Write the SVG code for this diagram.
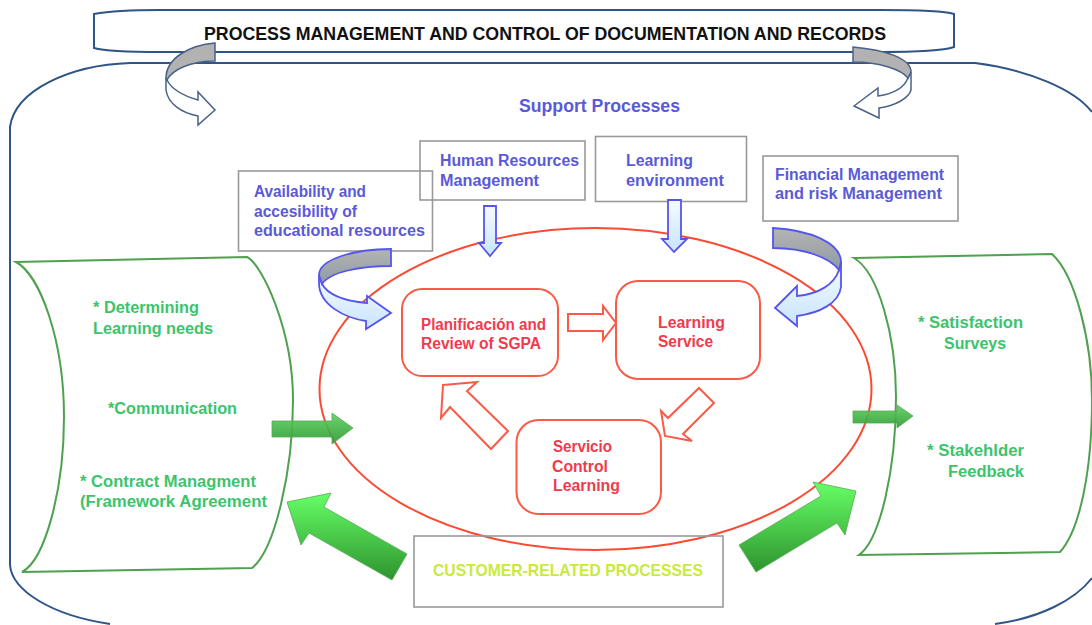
<svg xmlns="http://www.w3.org/2000/svg" width="1092" height="625" viewBox="0 0 1092 625">
<style>
text{font-family:"Liberation Sans",Arial,sans-serif;font-weight:bold;font-size:16px}
.b{fill:#5a5ad8}.r{fill:#f23a4e}.g{fill:#3cc46c}
.frame{fill:none;stroke:#2f5487;stroke-width:2}
.box{fill:none;stroke:#999;stroke-width:1.6}
.rbox{fill:#fff;stroke:#fb5a46;stroke-width:2}
.rarrow{fill:#fff;stroke:#fb5a46;stroke-width:2;stroke-linejoin:miter}
.scroll{fill:none;stroke:#4fa04f;stroke-width:2}
.gy{fill:#b2b2b2;stroke:#4a6288;stroke-width:1.5}
.wh{fill:#fff;stroke:#4a6288;stroke-width:1.5}
.bgy{fill:url(#gy2);stroke:#5555ee;stroke-width:1.8}
.bbl{fill:url(#bl);stroke:#5555ee;stroke-width:1.8}
.gn{fill:url(#gr);stroke:#58a858;stroke-width:.8;stroke-linejoin:miter}
.gs{fill:url(#gs);fill-opacity:.92;stroke:#58a858;stroke-width:.8}
</style>
<defs>
<linearGradient id="gr" x1="0" y1="0" x2="0" y2="1"><stop offset="0" stop-color="#66ff66"/><stop offset="1" stop-color="#2e932e"/></linearGradient>
<linearGradient id="gs" x1="0" y1="0" x2="0" y2="1"><stop offset="0" stop-color="#5fd05f"/><stop offset="1" stop-color="#2f9a35"/></linearGradient>
<linearGradient id="bl" x1="0" y1="0" x2="0" y2="1"><stop offset="0" stop-color="#f6fbff"/><stop offset="1" stop-color="#c8e4ff"/></linearGradient>
<linearGradient id="gy2" x1="0" y1="0" x2="0" y2="1"><stop offset="0" stop-color="#b4b4b4"/><stop offset="1" stop-color="#8f9aa4"/></linearGradient>
</defs>

<g id="outer-frame"><path class="frame" d="M10 565V127C15 90 70 65 130 63H975C1030 70 1075 90 1092 112M10 565C12 590 50 615 110 624M995 624C1040 618 1075 600 1092 578"/></g>
<g id="title"><path class="frame" d="M160 52C130 52 105 51 94 48V14C105 12 130 10 160 10H880C915 10 945 11 954 14V47C945 50 915 52 880 52Z"/>
<text x="204" y="40" style="font-size:19px" textLength="682" lengthAdjust="spacingAndGlyphs" fill="#111">PROCESS MANAGEMENT AND CONTROL OF DOCUMENTATION AND RECORDS</text></g>
<g id="support-label"><text class="b" x="519" y="112" style="font-size:17.500px" textLength="161" lengthAdjust="spacingAndGlyphs">Support Processes</text></g>

<g id="core-ellipse"><ellipse cx="595.5" cy="389" rx="276" ry="161" fill="none" stroke="#fb4a32" stroke-width="2"/></g>

<g id="scroll-left"><path class="scroll" d="M16 262L247 257C262 264 293 330 293 400C293 470 275 550 252 568L22 572C45 560 64 490 64 417C64 340 40 275 16 262Z"/>
<text class="g" x="93" y="313" textLength="106" lengthAdjust="spacingAndGlyphs">* Determining</text>
<text class="g" x="93" y="334" textLength="120" lengthAdjust="spacingAndGlyphs">Learning needs</text>
<text class="g" x="108" y="414" textLength="129" lengthAdjust="spacingAndGlyphs">*Communication</text>
<text class="g" x="80" y="487" textLength="176" lengthAdjust="spacingAndGlyphs">* Contract Managment</text>
<text class="g" x="80" y="507" textLength="187" lengthAdjust="spacingAndGlyphs">(Framework Agreement</text></g>

<g id="scroll-right"><path class="scroll" d="M854 258L1052 254C1075 275 1092 340 1092 400C1092 470 1080 530 1060 552L859 555C880 540 896 470 896 397C896 335 878 272 854 258Z"/>
<text class="g" x="918" y="328" textLength="105" lengthAdjust="spacingAndGlyphs">* Satisfaction</text>
<text class="g" x="944" y="349" textLength="62" lengthAdjust="spacingAndGlyphs">Surveys</text>
<text class="g" x="927" y="456" textLength="97" lengthAdjust="spacingAndGlyphs">* Stakehlder</text>
<text class="g" x="948" y="477" textLength="76" lengthAdjust="spacingAndGlyphs">Feedback</text></g>

<g id="box-availability"><rect class="box" x="238.5" y="171" width="194" height="80"/>
<text class="b" x="254" y="197" textLength="112" lengthAdjust="spacingAndGlyphs">Availability and</text>
<text class="b" x="254" y="217" textLength="103" lengthAdjust="spacingAndGlyphs">accesibility of</text>
<text class="b" x="254" y="236" textLength="171" lengthAdjust="spacingAndGlyphs">educational resources</text></g>
<g id="box-hr"><rect class="box" x="420" y="141" width="165" height="59"/>
<text class="b" x="440" y="166" textLength="139" lengthAdjust="spacingAndGlyphs">Human Resources</text>
<text class="b" x="440" y="186" textLength="99" lengthAdjust="spacingAndGlyphs">Management</text></g>
<g id="box-environment"><rect class="box" x="595.5" y="136.5" width="151" height="65"/>
<text class="b" x="626" y="166" textLength="67" lengthAdjust="spacingAndGlyphs">Learning</text>
<text class="b" x="626" y="186" textLength="98" lengthAdjust="spacingAndGlyphs">environment</text></g>
<g id="box-financial"><rect class="box" x="763" y="156" width="195" height="65"/>
<text class="b" x="775" y="180" textLength="169" lengthAdjust="spacingAndGlyphs">Financial Management</text>
<text class="b" x="775" y="199" textLength="167" lengthAdjust="spacingAndGlyphs">and risk Management</text></g>

<g id="node-planning"><rect class="rbox" x="402" y="289" width="156" height="87" rx="20"/>
<text class="r" x="421" y="330" textLength="125" lengthAdjust="spacingAndGlyphs">Planificación and</text>
<text class="r" x="421" y="349" textLength="120" lengthAdjust="spacingAndGlyphs">Review of SGPA</text></g>
<g id="node-service"><rect class="rbox" x="616" y="281" width="144" height="98" rx="22"/>
<text class="r" x="658" y="328" textLength="67" lengthAdjust="spacingAndGlyphs">Learning</text>
<text class="r" x="658" y="347" textLength="55" lengthAdjust="spacingAndGlyphs">Service</text></g>
<g id="node-control"><rect class="rbox" x="516.500" y="420" width="144.500" height="94" rx="22"/>
<text class="r" x="553" y="452" textLength="59" lengthAdjust="spacingAndGlyphs">Servicio</text>
<text class="r" x="552" y="472" textLength="56" lengthAdjust="spacingAndGlyphs">Control</text>
<text class="r" x="553" y="491" textLength="67" lengthAdjust="spacingAndGlyphs">Learning</text></g>

<g id="box-customer"><rect class="box" x="414" y="536" width="309" height="71"/>
<text x="433" y="576" fill="#c8ea3e" style="font-size:17px" textLength="270" lengthAdjust="spacingAndGlyphs">CUSTOMER-RELATED PROCESSES</text></g>

<g id="connectors">
<path class="rarrow" d="M568 314H603V306L616 323L603 340V331H568Z"/>
<path class="rarrow" d="M699 388L714 403L683 434L692 441L665 436L661 411L668 418Z"/>
<path class="rarrow" d="M443 385L477 382L467 391L508 431L491 449L450 407L441 418Z"/>
<path class="gs" d="M272 421H332V413L353 428L332 444V437H272Z"/>
<path class="gs" d="M853 411H897V405L913 416L897 428V423H853Z"/>
<path class="gn" d="M287 502L331 493L324 507L407 554L392 580L309 533L301 545Z"/>
<path class="gn" d="M813 482L856 491L845 535L837 523L756 572L739 545L821 496Z"/>
<path class="bbl" d="M484 206H496V243H501L490 256L479 243H484Z"/>
<path class="bbl" d="M668 200H681V239H687L674 252L662 239H668Z"/>
<path class="wh" d="M166 78V90C168 104 182 113 198 116V125L215 110L198 92V100C184 96 172 90 167 80Z"/>
<path class="gy" d="M215 43C190 45 166 58 166 78L167 80C172 70 190 61 215 61Z"/>
<path class="wh" d="M911 72V90C909 98 895 106 879 108V118L854 106L878 88V96C892 94 904 88 908 78Z"/>
<path class="gy" d="M853 47C885 50 911 58 911 72L908 78C902 70 880 62 853 62Z"/>
<path class="bbl" d="M319 275V283C319 305 345 318 366 321V329L391 313L367 296V303C345 301 328 295 322 284Z"/>
<path class="bgy" d="M391 249C355 249 319 259 319 275L322 284C330 272 360 266 391 266Z"/>
<path class="bbl" d="M841 262V287C839 303 820 313 797 316V326L775 308L797 286V296C818 294 834 285 839 270Z"/>
<path class="bgy" d="M773 228C810 230 841 243 841 262L839 270C830 258 805 248 773 248Z"/>
</g>
</svg>
